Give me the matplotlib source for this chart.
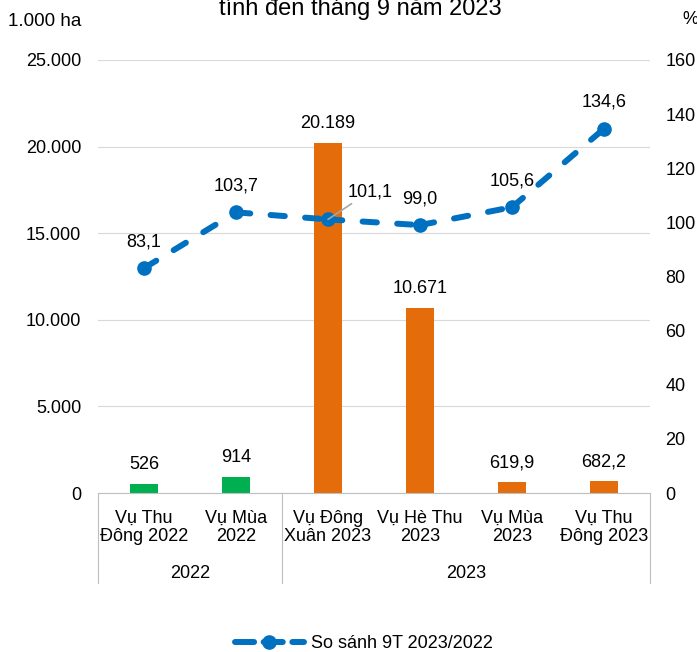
import matplotlib
matplotlib.use('Agg')
import matplotlib.pyplot as plt
from matplotlib.lines import Line2D
from matplotlib.ticker import FuncFormatter

plt.rcParams['font.family'] = ['Liberation Sans', 'DejaVu Sans']
plt.rcParams['font.size'] = 13

# Data
seasons = ['Vụ Thu\nĐông 2022', 'Vụ Mùa\n2022', 'Vụ Đông\nXuân 2023',
           'Vụ Hè Thu\n2023', 'Vụ Mùa\n2023', 'Vụ Thu\nĐông 2023']
years = ['2022', '2023']
year_sizes = [2, 4]
area = [526, 914, 20189, 10671, 619.9, 682.2]
area_labels = ['526', '914', '20.189', '10.671', '619,9', '682,2']
ratio = [83.1, 103.7, 101.1, 99.0, 105.6, 134.6]
bar_colors = ['#00B050', '#00B050', '#E46C0A', '#E46C0A', '#E46C0A', '#E46C0A']
line_color = '#0070C0'

fig = plt.figure(figsize=(6.97, 6.52), dpi=100)
ax = fig.add_axes([98 / 697, 1 - 493 / 652, 552 / 697, 433 / 652])
ax2 = ax.twinx()

x = list(range(len(seasons)))
ax.bar(x, area, width=0.3, color=bar_colors, zorder=2)
ax.set_xlim(-0.5, len(seasons) - 0.5)
ax.set_ylim(0, 25000)
ax.set_yticks(range(0, 25001, 5000))
ax.yaxis.set_major_formatter(FuncFormatter(lambda v, p: f'{int(v):,}'.replace(',', '.')))
ax.grid(axis='y', color='#D9D9D9', linewidth=0.8, zorder=0)
ax.set_axisbelow(True)
for s in ['top', 'right', 'left']:
    ax.spines[s].set_visible(False)
ax.spines['bottom'].set_color('#BFBFBF')
ax.tick_params(axis='y', length=0, pad=12, labelsize=13)
ax.set_xticks([])

for xi, v, lab in zip(x, area, area_labels):
    ax.annotate(lab, (xi, v), xytext=(0, 14), textcoords='offset points',
                ha='center', va='center', fontsize=13)

# line on secondary axis, dash pattern restarting on each segment
for i in range(len(x) - 1):
    ax2.plot(x[i:i + 2], ratio[i:i + 2], color=line_color, linewidth=4.3,
             dashes=(2.4, 3.4), dash_capstyle='round', zorder=3)
ax2.plot(x, ratio, linestyle='none', marker='o', markersize=9.5,
         color=line_color, zorder=4)
ax2.set_ylim(0, 160)
ax2.set_yticks(range(0, 161, 20))
for s in ['top', 'right', 'left', 'bottom']:
    ax2.spines[s].set_visible(False)
ax2.tick_params(axis='y', length=0, pad=11, labelsize=13)

for i, (xi, v) in enumerate(zip(x, ratio)):
    lab = f'{v:.1f}'.replace('.', ',')
    if i == 2:
        ax2.annotate(lab, (xi, v), xytext=(30, 20), textcoords='offset points',
                     ha='center', va='center', fontsize=13,
                     arrowprops=dict(arrowstyle='-', color='#A6A6A6', lw=1.2,
                                     shrinkA=1, shrinkB=0), zorder=5)
    else:
        ax2.annotate(lab, (xi, v), xytext=(0, 19), textcoords='offset points',
                     ha='center', va='center', fontsize=13)

# multi-level category axis
trans = ax.get_xaxis_transform()
for xi, s in zip(x, seasons):
    ax.text(xi, -(527.5 - 493) / 433, s, transform=trans, ha='center',
            va='center', fontsize=13, linespacing=1.15)
start = -0.5
sep_bottom = -(583 - 493) / 433
ax.plot([start, start], [0, sep_bottom], transform=trans, color='#BFBFBF',
        lw=0.8, clip_on=False)
for name, n in zip(years, year_sizes):
    end = start + n
    ax.plot([end, end], [0, sep_bottom], transform=trans, color='#BFBFBF',
            lw=0.8, clip_on=False)
    ax.text((start + end) / 2, -(573 - 493) / 433, name, transform=trans,
            ha='center', va='center', fontsize=13)
    start = end

fig.text(360 / 697, 1 - 15 / 652, 'tính đến tháng 9 năm 2023', ha='center',
         va='baseline', fontsize=17)
fig.text(8 / 697, 1 - 22 / 652, '1.000 ha', ha='left', va='center', fontsize=13.5)
fig.text(682 / 697, 1 - 20 / 652, '%', ha='left', va='center', fontsize=13)

proxy = Line2D([], [], color=line_color, linewidth=4.3, dashes=(3.2, 1.6),
               dash_capstyle='round', marker='o', markersize=9.5)
fig.legend([proxy], ['So sánh 9T 2023/2022'], loc='center',
           bbox_to_anchor=(364 / 697, 1 - 644 / 652), frameon=False,
           fontsize=13, handlelength=3.8, handletextpad=0.4)

fig.savefig('out.png', dpi=100)
